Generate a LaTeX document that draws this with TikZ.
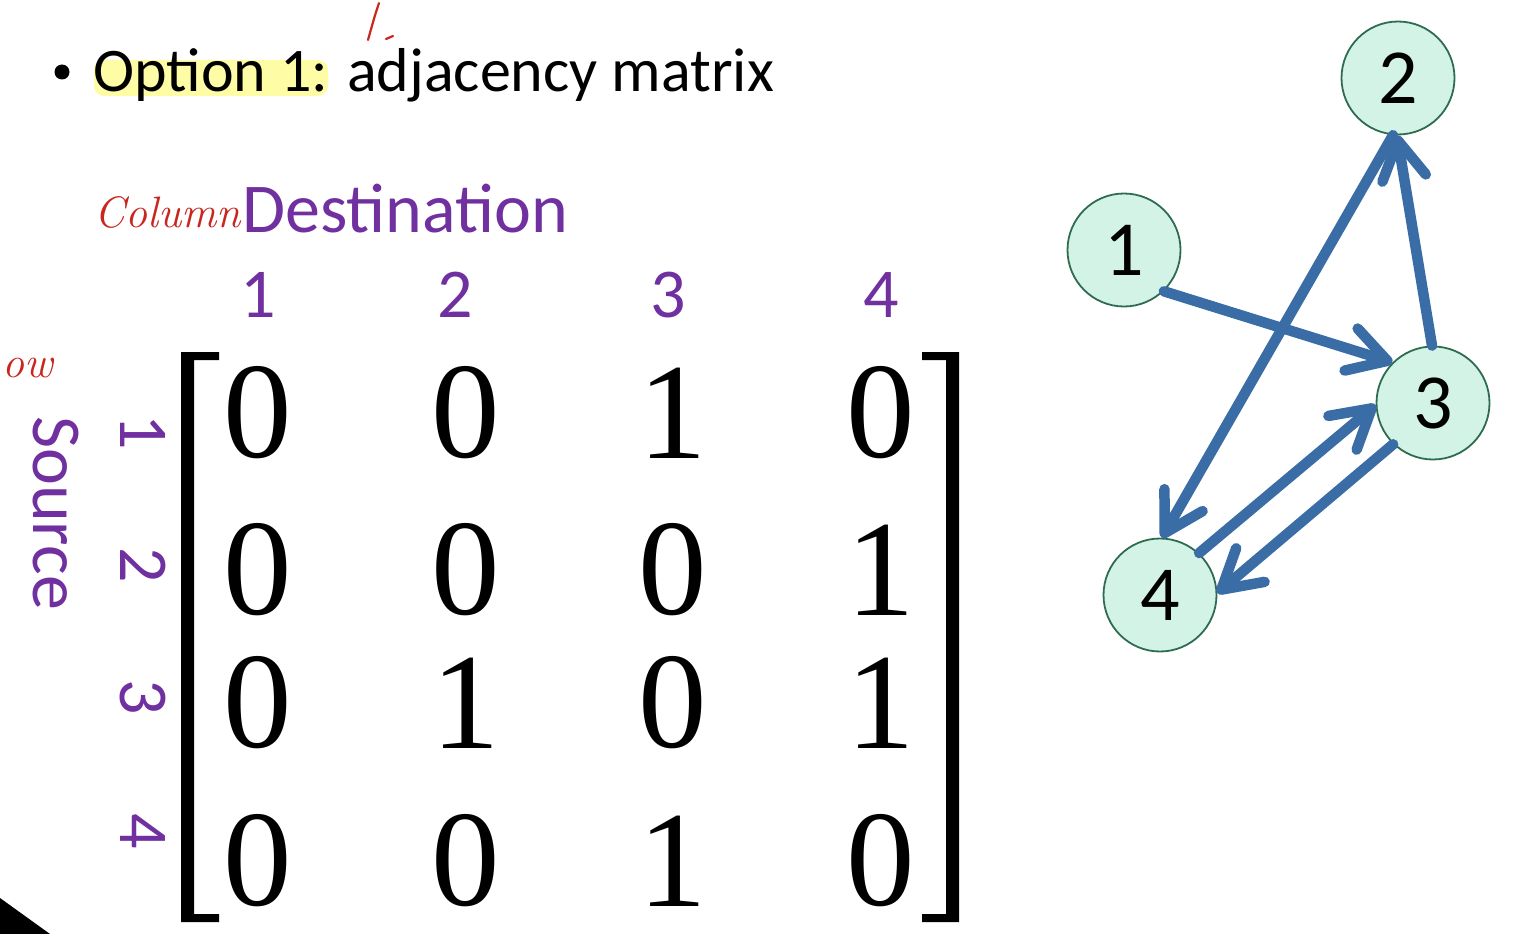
\documentclass[tikz,border=0pt]{standalone}
\usepackage{fontspec}
\newfontfamily\calib{Carlito}
\newfontfamily\mser{Liberation Serif}
\usetikzlibrary{arrows.meta}
\definecolor{purp}{HTML}{7030A0}
\definecolor{edgeblue}{HTML}{3A6DA6}
\definecolor{nodefill}{HTML}{D2F3E6}
\definecolor{nodeline}{HTML}{2F6B50}
\definecolor{hl}{HTML}{FFFCA6}
\definecolor{ink}{HTML}{C8261E}
\begin{document}
\begin{tikzpicture}[x=1pt,y=-1pt,
  vnode/.style={circle, draw=nodeline, line width=1.8pt, fill=nodefill, minimum size=113pt, inner sep=0pt, font=\calib\fontsize{78}{78}\selectfont},
  arc/.style={draw=edgeblue, line width=10.5pt, line cap=round, -{Straight Barb[length=38pt,width=44pt,round]}},
  lbl/.style={text=purp, inner sep=0pt, font=\calib\fontsize{70}{70}\selectfont},
  mentry/.style={inner sep=0pt, font=\mser\fontsize{137}{137}\selectfont},
  note/.style={text=ink, inner sep=0pt, font=\itshape\fontsize{44}{44}\selectfont},
  brk/.style={fill=black}
]
\useasboundingbox (0,0) rectangle (1526,934);

% highlight and title
\fill[hl, rounded corners=10pt] (94,60) rectangle (328,96);
\fill[black] (62,72) circle (7.5);
\node[anchor=base west, inner sep=0pt, font=\calib\fontsize{62}{62}\selectfont] (title) at (93,92) {Option 1: adjacency matrix};

% red annotations
\draw[ink, line width=2.2pt, line cap=round] (379,3) .. controls (375,15) .. (368,40);
\draw[ink, line width=2.2pt, line cap=round] (386,39) -- (393,36);
\node[note, anchor=base east] (colnote) at (241,227) {Column};
\node[note, anchor=base west] (rownote) at (2,377) {ow};

% headings
\node[lbl, anchor=base west] (dest) at (242,232) {Destination};
\node[lbl, anchor=base, rotate=-90] (src) at (33,513) {Source};

% column numbers
\node[lbl, anchor=base] (c1) at (258,317) {1};
\node[lbl, anchor=base] (c2) at (455,317) {2};
\node[lbl, anchor=base] (c3) at (668,317) {3};
\node[lbl, anchor=base] (c4) at (881,317) {4};

% row numbers
\node[lbl, anchor=base, rotate=-90] (r1) at (120,432) {1};
\node[lbl, anchor=base, rotate=-90] (r2) at (120,565) {2};
\node[lbl, anchor=base, rotate=-90] (r3) at (120,697) {3};
\node[lbl, anchor=base, rotate=-90] (r4) at (120,831) {4};

% brackets
\fill[brk] (181,352) -- (219,352) -- (219,360) -- (194,360) -- (194,914) -- (219,914) -- (219,922) -- (181,922) -- cycle;
\fill[brk] (959,352) -- (922,352) -- (922,360) -- (946,360) -- (946,914) -- (922,914) -- (922,922) -- (959,922) -- cycle;

% matrix entries
\node[mentry] (m11) at (258,413) {0};
\node[mentry] (m12) at (466,413) {0};
\node[mentry] (m13) at (673,413) {1};
\node[mentry] (m14) at (881,413) {0};
\node[mentry] (m21) at (258,570) {0};
\node[mentry] (m22) at (466,570) {0};
\node[mentry] (m23) at (673,570) {0};
\node[mentry] (m24) at (881,570) {1};
\node[mentry] (m31) at (258,703) {0};
\node[mentry] (m32) at (466,703) {1};
\node[mentry] (m33) at (673,703) {0};
\node[mentry] (m34) at (881,703) {1};
\node[mentry] (m41) at (258,861) {0};
\node[mentry] (m42) at (466,861) {0};
\node[mentry] (m43) at (673,861) {1};
\node[mentry] (m44) at (881,861) {0};

% graph
\node[vnode] (v1) at (1124,250) {1};
\node[vnode] (v2) at (1398,78) {2};
\node[vnode] (v3) at (1433,403) {3};
\node[vnode] (v4) at (1160,595) {4};

\draw[arc] (v1.-46) -- (v3.135);
\draw[arc] (v3.91) -- (v2.-91);
\draw[arc] (v2.-95) -- (v4.88);
\draw[arc] (v4.47) -- (v3.182);
\draw[arc] (v3.-134) -- (v4.2);

% corner triangle
\fill[black] (0,898) -- (50,934) -- (0,934) -- cycle;
\end{tikzpicture}
\end{document}
